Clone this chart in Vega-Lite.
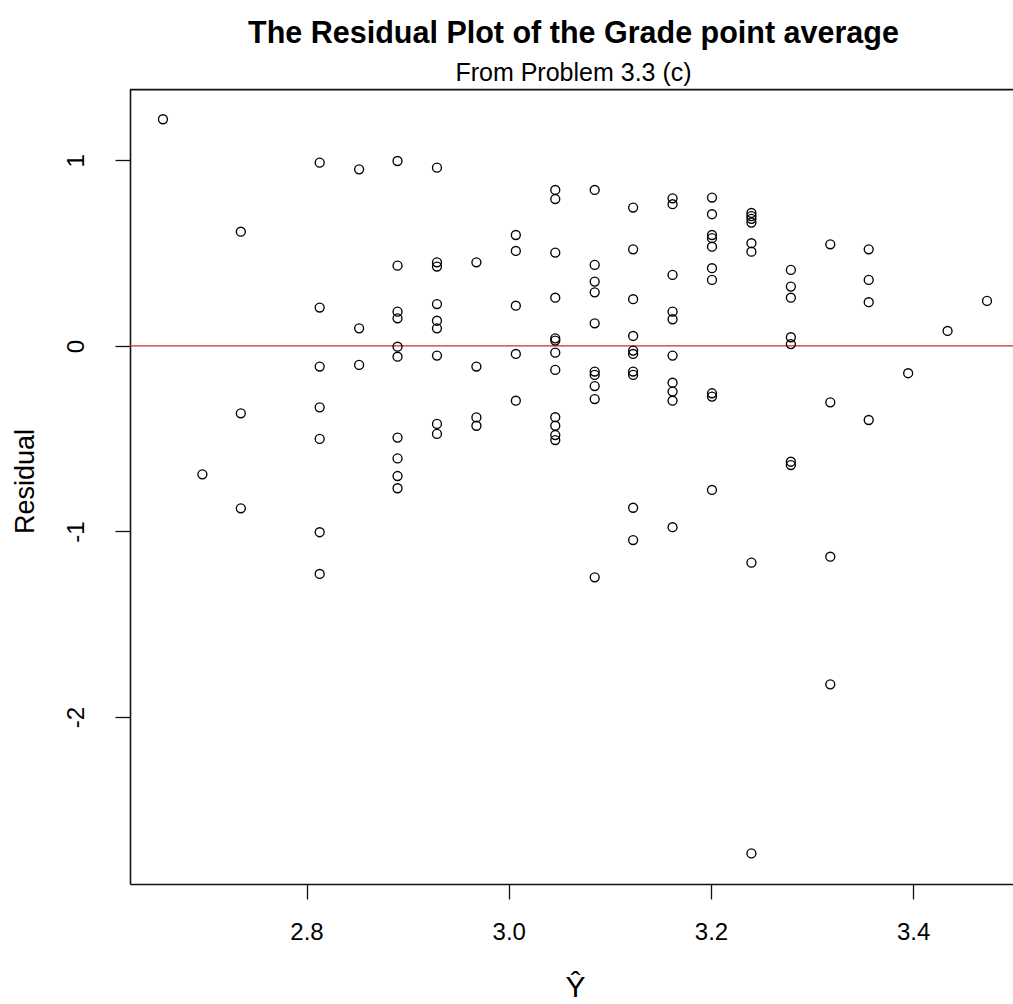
{
  "$schema": "https://vega.github.io/schema/vega-lite/v6.json",
  "width": 883,
  "height": 795,
  "autosize": {"type": "none"},
  "padding": {"left": 130, "top": 89, "right": 0, "bottom": 120},
  "background": "white",
  "config": {"view": {"stroke": null}, "font": "Liberation Sans"},
  "title": {
    "text": "The Residual Plot of the Grade point average",
    "subtitle": "From Problem 3.3 (c)",
    "anchor": "middle",
    "dx": 2,
    "fontSize": 30.5,
    "fontWeight": "bold",
    "color": "#000000",
    "subtitleFontSize": 25,
    "subtitleColor": "#000000",
    "subtitlePadding": 11,
    "offset": 3
  },
  "datasets": {
    "pts": [
      {"yhat": 2.658, "resid": 1.222},
      {"yhat": 2.697, "resid": -0.692},
      {"yhat": 2.735, "resid": 0.616}, {"yhat": 2.735, "resid": -0.363}, {"yhat": 2.735, "resid": -0.875},
      {"yhat": 2.813, "resid": 0.988}, {"yhat": 2.813, "resid": 0.207}, {"yhat": 2.813, "resid": -0.111}, {"yhat": 2.813, "resid": -0.331}, {"yhat": 2.813, "resid": -0.501}, {"yhat": 2.813, "resid": -1.004}, {"yhat": 2.813, "resid": -1.229},
      {"yhat": 2.852, "resid": 0.952}, {"yhat": 2.852, "resid": 0.095}, {"yhat": 2.852, "resid": -0.102},
      {"yhat": 2.890, "resid": 0.997}, {"yhat": 2.890, "resid": 0.433}, {"yhat": 2.890, "resid": 0.185}, {"yhat": 2.890, "resid": 0.149}, {"yhat": 2.890, "resid": -0.004}, {"yhat": 2.890, "resid": -0.058}, {"yhat": 2.890, "resid": -0.494}, {"yhat": 2.890, "resid": -0.606}, {"yhat": 2.890, "resid": -0.701}, {"yhat": 2.890, "resid": -0.767},
      {"yhat": 2.929, "resid": 0.961}, {"yhat": 2.929, "resid": 0.451}, {"yhat": 2.929, "resid": 0.428}, {"yhat": 2.929, "resid": 0.226}, {"yhat": 2.929, "resid": 0.136}, {"yhat": 2.929, "resid": 0.095}, {"yhat": 2.929, "resid": -0.052}, {"yhat": 2.929, "resid": -0.420}, {"yhat": 2.929, "resid": -0.474},
      {"yhat": 2.968, "resid": 0.451}, {"yhat": 2.968, "resid": -0.111}, {"yhat": 2.968, "resid": -0.385}, {"yhat": 2.968, "resid": -0.430},
      {"yhat": 3.007, "resid": 0.598}, {"yhat": 3.007, "resid": 0.512}, {"yhat": 3.007, "resid": 0.217}, {"yhat": 3.007, "resid": -0.043}, {"yhat": 3.007, "resid": -0.295},
      {"yhat": 3.046, "resid": 0.841}, {"yhat": 3.046, "resid": 0.792}, {"yhat": 3.046, "resid": 0.503}, {"yhat": 3.046, "resid": 0.260}, {"yhat": 3.046, "resid": 0.041}, {"yhat": 3.046, "resid": 0.029}, {"yhat": 3.046, "resid": -0.036}, {"yhat": 3.046, "resid": -0.129}, {"yhat": 3.046, "resid": -0.384}, {"yhat": 3.046, "resid": -0.430}, {"yhat": 3.046, "resid": -0.480}, {"yhat": 3.046, "resid": -0.507},
      {"yhat": 3.085, "resid": 0.841}, {"yhat": 3.085, "resid": 0.437}, {"yhat": 3.085, "resid": 0.347}, {"yhat": 3.085, "resid": 0.289}, {"yhat": 3.085, "resid": 0.122}, {"yhat": 3.085, "resid": -0.138}, {"yhat": 3.085, "resid": -0.156}, {"yhat": 3.085, "resid": -0.216}, {"yhat": 3.085, "resid": -0.286}, {"yhat": 3.085, "resid": -1.247},
      {"yhat": 3.123, "resid": 0.746}, {"yhat": 3.123, "resid": 0.521}, {"yhat": 3.123, "resid": 0.252}, {"yhat": 3.123, "resid": 0.054}, {"yhat": 3.123, "resid": -0.025}, {"yhat": 3.123, "resid": -0.043}, {"yhat": 3.123, "resid": -0.138}, {"yhat": 3.123, "resid": -0.156}, {"yhat": 3.123, "resid": -0.872}, {"yhat": 3.123, "resid": -1.046},
      {"yhat": 3.162, "resid": 0.796}, {"yhat": 3.162, "resid": 0.764}, {"yhat": 3.162, "resid": 0.383}, {"yhat": 3.162, "resid": 0.185}, {"yhat": 3.162, "resid": 0.144}, {"yhat": 3.162, "resid": -0.052}, {"yhat": 3.162, "resid": -0.198}, {"yhat": 3.162, "resid": -0.246}, {"yhat": 3.162, "resid": -0.295}, {"yhat": 3.162, "resid": -0.977},
      {"yhat": 3.201, "resid": 0.800}, {"yhat": 3.201, "resid": 0.710}, {"yhat": 3.201, "resid": 0.598}, {"yhat": 3.201, "resid": 0.581}, {"yhat": 3.201, "resid": 0.535}, {"yhat": 3.201, "resid": 0.419}, {"yhat": 3.201, "resid": 0.356}, {"yhat": 3.201, "resid": -0.255}, {"yhat": 3.201, "resid": -0.273}, {"yhat": 3.201, "resid": -0.776},
      {"yhat": 3.240, "resid": 0.717}, {"yhat": 3.240, "resid": 0.700}, {"yhat": 3.240, "resid": 0.685}, {"yhat": 3.240, "resid": 0.665}, {"yhat": 3.240, "resid": 0.554}, {"yhat": 3.240, "resid": 0.508}, {"yhat": 3.240, "resid": -1.168}, {"yhat": 3.240, "resid": -2.735},
      {"yhat": 3.279, "resid": 0.410}, {"yhat": 3.279, "resid": 0.320}, {"yhat": 3.279, "resid": 0.260}, {"yhat": 3.279, "resid": 0.047}, {"yhat": 3.279, "resid": 0.010}, {"yhat": 3.279, "resid": -0.624}, {"yhat": 3.279, "resid": -0.642},
      {"yhat": 3.318, "resid": 0.548}, {"yhat": 3.318, "resid": -0.304}, {"yhat": 3.318, "resid": -1.136}, {"yhat": 3.318, "resid": -1.824},
      {"yhat": 3.356, "resid": 0.521}, {"yhat": 3.356, "resid": 0.356}, {"yhat": 3.356, "resid": 0.236}, {"yhat": 3.356, "resid": -0.399},
      {"yhat": 3.395, "resid": -0.147},
      {"yhat": 3.434, "resid": 0.081},
      {"yhat": 3.473, "resid": 0.243}
    ],
    "lines": [
      {"kind": "zero", "level": 0},
      {"kind": "top", "level": 1.382}
    ]
  },
  "layer": [
    {
      "data": {"name": "lines"},
      "mark": {"type": "rule", "clip": false},
      "encoding": {
        "y": {"field": "level", "type": "quantitative"},
        "color": {"field": "kind", "type": "nominal", "scale": {"domain": ["zero", "top"], "range": ["#d42a2a", "#111111"]}, "legend": null},
        "strokeWidth": {"field": "kind", "type": "nominal", "scale": {"domain": ["zero", "top"], "range": [1.3, 1.8]}, "legend": null}
      }
    },
    {
      "data": {"name": "pts"},
      "mark": {"type": "point", "shape": "circle", "filled": false, "color": "#000000", "size": 80, "strokeWidth": 1.35, "opacity": 1},
      "encoding": {
        "x": {
          "field": "yhat", "type": "quantitative",
          "scale": {"domain": [2.6254, 3.4987], "nice": false, "zero": false},
          "axis": {
            "title": "Ŷ",
            "values": [2.8, 3.0, 3.2, 3.4],
            "format": ".1f",
            "grid": false,
            "domainColor": "#111111", "domainWidth": 1.6,
            "tickColor": "#111111", "tickWidth": 1.3, "tickSize": 15,
            "labelFontSize": 24, "labelColor": "#000000", "labelPadding": 21, "labelBaseline": "top",
            "titleFontSize": 30, "titleFontWeight": "normal", "titleColor": "#000000",
            "titleX": 445, "titleY": 112, "titleBaseline": "alphabetic", "titleAlign": "center"
          }
        },
        "y": {
          "field": "resid", "type": "quantitative",
          "scale": {"domain": [-2.9, 1.385], "nice": false, "zero": false},
          "axis": {
            "title": "Residual",
            "values": [-2, -1, 0, 1],
            "labelExpr": "'' + datum.value",
            "grid": false,
            "domainColor": "#111111", "domainWidth": 1.6,
            "tickColor": "#111111", "tickWidth": 1.3, "tickSize": 15,
            "labelFontSize": 24, "labelColor": "#000000", "labelAngle": -90, "labelAlign": "center", "labelBaseline": "alphabetic", "labelPadding": 32,
            "titleFontSize": 27, "titleFontWeight": "normal", "titleColor": "#000000",
            "titleAngle": -90, "titleX": -97, "titleY": 392, "titleBaseline": "alphabetic", "titleAlign": "center"
          }
        }
      }
    }
  ]
}
